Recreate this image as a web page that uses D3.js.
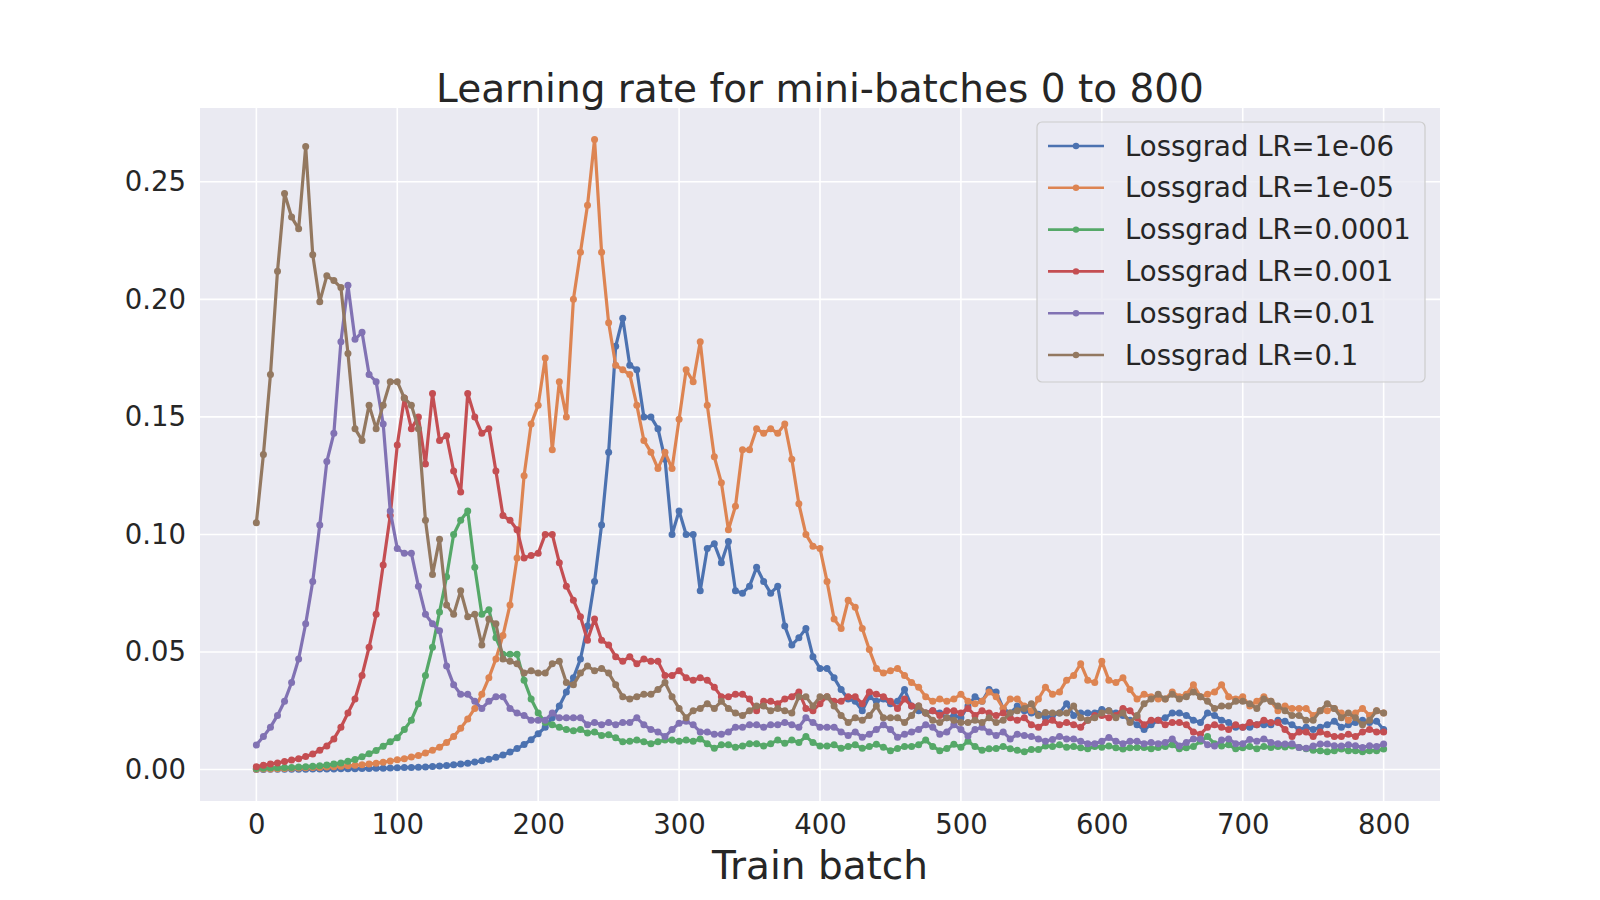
<!DOCTYPE html>
<html>
<head>
<meta charset="utf-8">
<script src="https://cdn.jsdelivr.net/npm/d3@7"></script>
<style>
body { margin: 0; background: #fff; }
svg { display: block; font-family: "DejaVu Sans", sans-serif; }
</style>
</head>
<body>
<svg id="chart" width="1600" height="900"></svg>
<script>
// train batch index for every stored value (one value per 5 batches)
const batches = d3.range(0, 801, 5);

const lr_1e6 = [
	0.0000, 0.0000, 0.0001, 0.0001, 0.0001, 0.0001, 0.0001, 0.0001, 0.0002, 0.0002, 0.0002, 0.0002, 0.0003, 0.0003, 0.0003, 0.0004, 0.0004, 0.0005, 0.0005, 0.0006,
	0.0007, 0.0008, 0.0009, 0.0010, 0.0011, 0.0013, 0.0015, 0.0017, 0.0020, 0.0023, 0.0027, 0.0032, 0.0037, 0.0044, 0.0052, 0.0062, 0.0074, 0.0089, 0.0106, 0.0127,
	0.0152, 0.018, 0.022, 0.027, 0.033, 0.039, 0.047, 0.061, 0.080, 0.104, 0.135, 0.180, 0.192, 0.172, 0.170, 0.150, 0.150, 0.145, 0.132, 0.100,
	0.110, 0.100, 0.100, 0.076, 0.094, 0.096, 0.088, 0.097, 0.076, 0.075, 0.078, 0.086, 0.080, 0.075, 0.078, 0.061, 0.053, 0.056, 0.060, 0.048,
	0.043, 0.043, 0.039, 0.034, 0.030, 0.029, 0.025, 0.031, 0.029, 0.030, 0.028, 0.029, 0.034, 0.027, 0.025, 0.024, 0.025, 0.024, 0.022, 0.023,
	0.022, 0.027, 0.031, 0.029, 0.034, 0.033, 0.026, 0.024, 0.027, 0.025, 0.024, 0.0235, 0.022, 0.023, 0.024, 0.028, 0.023, 0.024, 0.024, 0.024,
	0.0255, 0.025, 0.024, 0.023, 0.021, 0.019, 0.017, 0.019, 0.021, 0.022, 0.024, 0.024, 0.023, 0.021, 0.020, 0.024, 0.023, 0.021, 0.020, 0.018,
	0.018, 0.018, 0.019, 0.019, 0.019, 0.021, 0.0205, 0.019, 0.017, 0.018, 0.017, 0.018, 0.019, 0.0205, 0.018, 0.019, 0.020, 0.021, 0.020, 0.0205,
	0.017
];
const lr_1e5 = [
	0.0001, 0.0002, 0.0002, 0.0003, 0.0004, 0.0005, 0.0006, 0.0007, 0.0008, 0.0009, 0.0011, 0.0012, 0.0014, 0.0016, 0.0018, 0.0020, 0.0023, 0.0027, 0.0031, 0.0036,
	0.0041, 0.0046, 0.0053, 0.0060, 0.0070, 0.0082, 0.0095, 0.0115, 0.0140, 0.0175, 0.0215, 0.026, 0.032, 0.039, 0.047, 0.057, 0.070, 0.090, 0.125, 0.147,
	0.155, 0.175, 0.136, 0.165, 0.150, 0.200, 0.220, 0.240, 0.268, 0.220, 0.190, 0.172, 0.170, 0.168, 0.155, 0.140, 0.135, 0.128, 0.135, 0.128,
	0.149, 0.170, 0.165, 0.182, 0.155, 0.133, 0.122, 0.102, 0.112, 0.136, 0.136, 0.145, 0.143, 0.145, 0.143, 0.147, 0.132, 0.113, 0.100, 0.095,
	0.094, 0.080, 0.064, 0.060, 0.072, 0.069, 0.060, 0.051, 0.043, 0.041, 0.042, 0.043, 0.040, 0.037, 0.035, 0.031, 0.029, 0.030, 0.029, 0.030,
	0.032, 0.029, 0.028, 0.029, 0.033, 0.031, 0.026, 0.030, 0.030, 0.027, 0.025, 0.030, 0.035, 0.032, 0.033, 0.038, 0.040, 0.045, 0.038, 0.037,
	0.046, 0.038, 0.037, 0.039, 0.034, 0.030, 0.032, 0.031, 0.030, 0.030, 0.033, 0.031, 0.032, 0.036, 0.031, 0.032, 0.033, 0.036, 0.031, 0.030,
	0.031, 0.027, 0.029, 0.031, 0.029, 0.025, 0.027, 0.026, 0.026, 0.026, 0.023, 0.025, 0.025, 0.026, 0.024, 0.021, 0.024, 0.026, 0.023, 0.025,
	0.024
];
const lr_1e4 = [
	0.0004, 0.0005, 0.0006, 0.0007, 0.0008, 0.0009, 0.0011, 0.0012, 0.0014, 0.0016, 0.0019, 0.0023, 0.0028, 0.0035, 0.0043, 0.0054, 0.0067, 0.0081, 0.0099, 0.0118,
	0.0135, 0.017, 0.021, 0.028, 0.040, 0.052, 0.067, 0.082, 0.100, 0.106, 0.110, 0.086, 0.066, 0.068, 0.056, 0.049, 0.049, 0.049, 0.038, 0.030,
	0.024, 0.020, 0.019, 0.018, 0.017, 0.0165, 0.017, 0.0155, 0.016, 0.0145, 0.0148, 0.0135, 0.0118, 0.012, 0.0125, 0.0118, 0.011, 0.0118, 0.0125, 0.0125,
	0.012, 0.0125, 0.012, 0.013, 0.011, 0.009, 0.0105, 0.0105, 0.0095, 0.010, 0.011, 0.011, 0.010, 0.011, 0.0125, 0.0112, 0.0125, 0.0115, 0.014, 0.0115,
	0.010, 0.010, 0.0105, 0.009, 0.0098, 0.0105, 0.009, 0.0098, 0.0107, 0.0095, 0.008, 0.0089, 0.0098, 0.0098, 0.0105, 0.0125, 0.0098, 0.008, 0.0089, 0.0107,
	0.0095, 0.012, 0.0098, 0.0082, 0.0088, 0.0089, 0.0098, 0.0088, 0.0082, 0.0075, 0.0085, 0.0085, 0.010, 0.0098, 0.0105, 0.0095, 0.0098, 0.0092, 0.0088, 0.0098,
	0.0095, 0.010, 0.0092, 0.0087, 0.0092, 0.0094, 0.0094, 0.0088, 0.0094, 0.0098, 0.0105, 0.0088, 0.0092, 0.0098, 0.012, 0.014, 0.011, 0.010, 0.0105, 0.0088,
	0.0092, 0.0098, 0.0088, 0.0098, 0.0094, 0.0098, 0.0096, 0.010, 0.0094, 0.0088, 0.0082, 0.008, 0.0075, 0.008, 0.0087, 0.008, 0.008, 0.0075, 0.008, 0.008,
	0.0087
];
const lr_1e3 = [
	0.0012, 0.0018, 0.0023, 0.0028, 0.0034, 0.004, 0.0046, 0.0055, 0.0066, 0.0082, 0.010, 0.013, 0.018, 0.024, 0.030, 0.040, 0.052, 0.066, 0.087, 0.108,
	0.138, 0.158, 0.145, 0.150, 0.130, 0.160, 0.140, 0.142, 0.127, 0.118, 0.160, 0.150, 0.143, 0.145, 0.127, 0.108, 0.106, 0.102, 0.090, 0.091,
	0.092, 0.100, 0.100, 0.088, 0.078, 0.072, 0.065, 0.055, 0.064, 0.055, 0.053, 0.048, 0.046, 0.048, 0.045, 0.047, 0.046, 0.046, 0.040, 0.040,
	0.042, 0.039, 0.038, 0.039, 0.038, 0.035, 0.031, 0.031, 0.032, 0.032, 0.030, 0.025, 0.029, 0.029, 0.028, 0.030, 0.031, 0.033, 0.026, 0.025,
	0.028, 0.031, 0.029, 0.029, 0.031, 0.031, 0.028, 0.033, 0.032, 0.031, 0.029, 0.026, 0.030, 0.027, 0.027, 0.024, 0.025, 0.023, 0.025, 0.025,
	0.024, 0.026, 0.023, 0.025, 0.024, 0.023, 0.024, 0.022, 0.021, 0.022, 0.019, 0.018, 0.020, 0.021, 0.019, 0.020, 0.019, 0.018, 0.021, 0.023,
	0.023, 0.022, 0.023, 0.026, 0.025, 0.022, 0.019, 0.021, 0.021, 0.019, 0.020, 0.020, 0.019, 0.016, 0.015, 0.018, 0.019, 0.018, 0.017, 0.019,
	0.018, 0.020, 0.019, 0.021, 0.020, 0.020, 0.017, 0.014, 0.016, 0.016, 0.014, 0.016, 0.015, 0.014, 0.014, 0.015, 0.014, 0.016, 0.017, 0.016,
	0.016
];
const lr_1e2 = [
	0.0104, 0.014, 0.018, 0.023, 0.029, 0.037, 0.047, 0.062, 0.080, 0.104, 0.131, 0.143, 0.182, 0.206, 0.183, 0.186, 0.168, 0.165, 0.147, 0.110,
	0.094, 0.092, 0.092, 0.078, 0.066, 0.062, 0.059, 0.044, 0.036, 0.032, 0.032, 0.029, 0.026, 0.029, 0.031, 0.031, 0.026, 0.024, 0.023, 0.021,
	0.021, 0.021, 0.024, 0.022, 0.022, 0.022, 0.022, 0.019, 0.020, 0.019, 0.020, 0.019, 0.020, 0.020, 0.022, 0.019, 0.017, 0.016, 0.014, 0.017,
	0.0197, 0.0205, 0.019, 0.016, 0.016, 0.015, 0.015, 0.016, 0.018, 0.018, 0.019, 0.019, 0.018, 0.019, 0.019, 0.020, 0.019, 0.018, 0.022, 0.020,
	0.018, 0.018, 0.018, 0.016, 0.0145, 0.016, 0.0137, 0.015, 0.017, 0.019, 0.017, 0.0137, 0.015, 0.016, 0.017, 0.019, 0.018, 0.015, 0.016, 0.019,
	0.017, 0.0143, 0.017, 0.018, 0.016, 0.0145, 0.016, 0.013, 0.015, 0.0145, 0.014, 0.013, 0.012, 0.0128, 0.014, 0.013, 0.013, 0.012, 0.011, 0.011,
	0.012, 0.0136, 0.012, 0.011, 0.012, 0.012, 0.011, 0.0115, 0.011, 0.0115, 0.013, 0.010, 0.0115, 0.013, 0.013, 0.0105, 0.010, 0.0125, 0.013, 0.011,
	0.011, 0.0128, 0.012, 0.013, 0.0115, 0.011, 0.0108, 0.011, 0.0094, 0.009, 0.010, 0.0108, 0.0108, 0.0101, 0.010, 0.0105, 0.0101, 0.0094, 0.0101, 0.0098,
	0.0108
];
const lr_1e1 = [
	0.105, 0.134, 0.168, 0.212, 0.245, 0.235, 0.230, 0.265, 0.219, 0.199, 0.210, 0.208, 0.205, 0.177, 0.145, 0.140, 0.155, 0.145, 0.155, 0.165,
	0.165, 0.158, 0.155, 0.145, 0.106, 0.083, 0.098, 0.070, 0.066, 0.076, 0.065, 0.066, 0.053, 0.064, 0.062, 0.047, 0.046, 0.045, 0.041, 0.042,
	0.041, 0.041, 0.045, 0.046, 0.037, 0.036, 0.041, 0.044, 0.042, 0.043, 0.041, 0.036, 0.031, 0.030, 0.031, 0.032, 0.032, 0.034, 0.037, 0.031,
	0.026, 0.022, 0.025, 0.026, 0.028, 0.026, 0.029, 0.026, 0.024, 0.023, 0.025, 0.027, 0.027, 0.025, 0.026, 0.025, 0.024, 0.031, 0.031, 0.027,
	0.031, 0.031, 0.027, 0.023, 0.020, 0.022, 0.021, 0.023, 0.027, 0.022, 0.022, 0.022, 0.020, 0.023, 0.027, 0.024, 0.021, 0.020, 0.022, 0.021,
	0.020, 0.020, 0.021, 0.020, 0.022, 0.020, 0.021, 0.024, 0.025, 0.026, 0.028, 0.023, 0.0243, 0.024, 0.024, 0.024, 0.027, 0.022, 0.021, 0.022,
	0.024, 0.025, 0.022, 0.024, 0.020, 0.023, 0.028, 0.030, 0.032, 0.030, 0.032, 0.030, 0.031, 0.033, 0.031, 0.029, 0.026, 0.027, 0.027, 0.029,
	0.029, 0.028, 0.026, 0.030, 0.029, 0.027, 0.025, 0.023, 0.023, 0.021, 0.021, 0.025, 0.028, 0.026, 0.022, 0.024, 0.022, 0.019, 0.021, 0.025,
	0.024
];

const series_names = [
	"Lossgrad LR=1e-06",
	"Lossgrad LR=1e-05",
	"Lossgrad LR=0.0001",
	"Lossgrad LR=0.001",
	"Lossgrad LR=0.01",
	"Lossgrad LR=0.1",
];
const series_values = [lr_1e6, lr_1e5, lr_1e4, lr_1e3, lr_1e2, lr_1e1];
const series_colors = ["#4C72B0", "#DD8452", "#55A868", "#C44E52", "#8172B3", "#937860"];

const x_ticks = [0, 100, 200, 300, 400, 500, 600, 700, 800];
const y_ticks = [0.0, 0.05, 0.1, 0.15, 0.2, 0.25];

const plot_l = 200;
const plot_r = 1440;
const plot_t = 108;
const plot_b = 801;
const text_color = "#262626";
const line_w = 3.2;
const dot_r = 3.5;

const svg = d3.select("#chart");

const x = d3.scaleLinear().domain([-40, 840]).range([plot_l, plot_r]);
const y = d3.scaleLinear().domain([-0.0134, 0.2814]).range([plot_b, plot_t]);

// background of the axes
svg.append("rect")
	.attr("x", plot_l)
	.attr("y", plot_t)
	.attr("width", plot_r - plot_l)
	.attr("height", plot_b - plot_t)
	.attr("fill", "#EAEAF2");

// grid
const grid = svg.append("g").attr("stroke", "#fff").attr("stroke-width", 1.6);
grid.selectAll("line.gx")
	.data(x_ticks)
	.join("line")
	.attr("class", "gx")
	.attr("x1", (d) => x(d))
	.attr("x2", (d) => x(d))
	.attr("y1", plot_t)
	.attr("y2", plot_b);
grid.selectAll("line.gy")
	.data(y_ticks)
	.join("line")
	.attr("class", "gy")
	.attr("x1", plot_l)
	.attr("x2", plot_r)
	.attr("y1", (d) => y(d))
	.attr("y2", (d) => y(d));

// axes, without domain lines or tick marks (seaborn darkgrid look)
const x_axis = svg.append("g")
	.attr("transform", `translate(0,${plot_b})`)
	.call(d3.axisBottom(x).tickValues(x_ticks).tickSize(0).tickPadding(13).tickFormat(d3.format("d")));
const y_axis = svg.append("g")
	.attr("transform", `translate(${plot_l},0)`)
	.call(d3.axisLeft(y).tickValues(y_ticks).tickSize(0).tickPadding(14).tickFormat(d3.format(".2f")));
[x_axis, y_axis].forEach((ax) => {
	ax.select(".domain").remove();
	ax.selectAll("text")
		.attr("fill", text_color)
		.attr("font-size", 27.5)
		.attr("font-family", "DejaVu Sans");
});

// series
svg.append("clipPath")
	.attr("id", "plot-clip")
	.append("rect")
	.attr("x", plot_l)
	.attr("y", plot_t)
	.attr("width", plot_r - plot_l)
	.attr("height", plot_b - plot_t);

const line = d3.line()
	.x((d) => x(d[0]))
	.y((d) => y(d[1]));

const plot = svg.append("g").attr("clip-path", "url(#plot-clip)");
series_values.forEach((vals, i) => {
	const pts = batches.map((b, k) => [b, vals[k]]);
	const g = plot.append("g");
	g.append("path")
		.datum(pts)
		.attr("fill", "none")
		.attr("stroke", series_colors[i])
		.attr("stroke-width", line_w)
		.attr("stroke-linejoin", "round")
		.attr("d", line);
	g.selectAll("circle")
		.data(pts)
		.join("circle")
		.attr("cx", (d) => x(d[0]))
		.attr("cy", (d) => y(d[1]))
		.attr("r", dot_r)
		.attr("fill", series_colors[i]);
});

// title and axis label
svg.append("text")
	.attr("x", (plot_l + plot_r) / 2)
	.attr("y", 102)
	.attr("text-anchor", "middle")
	.attr("font-size", 39)
	.attr("fill", text_color)
	.text("Learning rate for mini-batches 0 to 800");

svg.append("text")
	.attr("x", (plot_l + plot_r) / 2)
	.attr("y", 879)
	.attr("text-anchor", "middle")
	.attr("font-size", 39)
	.attr("fill", text_color)
	.text("Train batch");

// legend
const leg_x = 1037;
const leg_y = 122;
const leg_row = 41.8;
svg.append("rect")
	.attr("x", leg_x)
	.attr("y", leg_y)
	.attr("width", 388)
	.attr("height", 260)
	.attr("rx", 5)
	.attr("fill", "#EAEAF2")
	.attr("fill-opacity", 0.8)
	.attr("stroke", "#cccccc")
	.attr("stroke-width", 1.2);

const leg = svg.append("g")
	.selectAll("g")
	.data(series_names)
	.join("g")
	.attr("transform", (d, i) => `translate(${leg_x},${leg_y + 24 + i * leg_row})`);
leg.append("line")
	.attr("x1", 11)
	.attr("x2", 67)
	.attr("stroke", (d, i) => series_colors[i])
	.attr("stroke-width", 2.6);
leg.append("circle")
	.attr("cx", 39)
	.attr("r", 3.2)
	.attr("fill", (d, i) => series_colors[i]);
leg.append("text")
	.attr("x", 88)
	.attr("dy", "0.35em")
	.attr("font-size", 27.5)
	.attr("fill", text_color)
	.text((d) => d);
</script>
</body>
</html>
